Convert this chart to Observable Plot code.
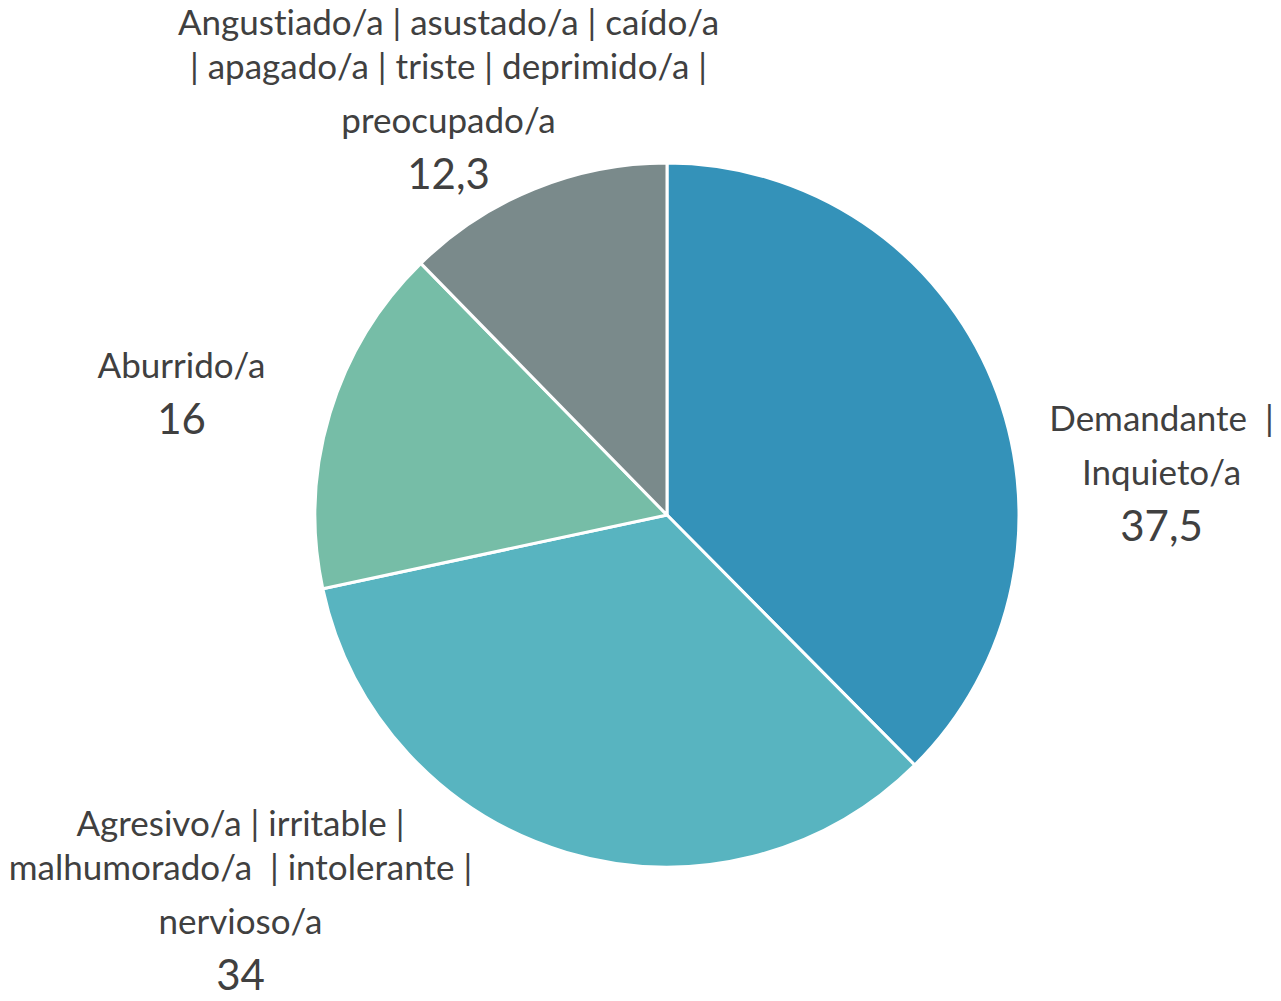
<!DOCTYPE html>
<html>
<head>
<meta charset="utf-8">
<script src="https://cdn.jsdelivr.net/npm/d3@7"></script>
<script src="https://cdn.jsdelivr.net/npm/@observablehq/plot@0.6"></script>
<style>
  html, body { margin: 0; padding: 0; background: #ffffff; }
  svg text { white-space: pre; font-variant-ligatures: none; }
</style>
</head>
<body>
<div id="chart"></div>
<script>
// ---- data ----
const categories = [
  "Demandante | Inquieto/a",
  "Agresivo/a | irritable | malhumorado/a | intolerante | nervioso/a",
  "Aburrido/a",
  "Angustiado/a | asustado/a | caído/a | apagado/a | triste | deprimido/a | preocupado/a"
];
const values = [37.5, 34, 16, 12.3];
const valueLabels = ["37,5", "34", "16", "12,3"];
const colors = ["#3492b9", "#58b4c0", "#76bda7", "#7a8a8b"];
// label text as it wraps: paragraphs of wrapped lines
const labelLines = [
  [["Demandante  |"], ["Inquieto/a"]],
  [["Agresivo/a | irritable |", "malhumorado/a  | intolerante |"], ["nervioso/a"]],
  [["Aburrido/a"]],
  [["Angustiado/a | asustado/a | caído/a", "| apagado/a | triste | deprimido/a |"], ["preocupado/a"]]
];

// ---- layout (pixels) ----
const W = 1281, H = 1001;
const cx = 667, cy = 515, R = 352;
// label block placement: centre x and first line y, offsets from pie centre (px)
const labelLayout = [
  {dx: 494, dy: -96},
  {dx: -427, dy: 309},
  {dx: -486, dy: -149},
  {dx: -219, dy: -492}
];
const wrapGap = 44, paraGap = 54;
const catFont = 35, valFont = 42;
const textColor = "#404040";
const fontFamily = "Lato, 'Open Sans', sans-serif";

const data = categories.map((c, i) => ({category: c, value: values[i]}));
const colorScale = Plot.scale({color: {type: "ordinal", domain: categories, range: colors}});

// text rows
const textRows = [];
labelLines.forEach((paras, i) => {
  const L = labelLayout[i];
  let y = L.dy;
  let first = true;
  paras.forEach((lines) => {
    lines.forEach((t, k) => {
      if (!first) y += (k === 0 ? paraGap : wrapGap);
      first = false;
      textRows.push({text: t, x: L.dx / R, y: y / R, size: catFont});
    });
  });
  y += paraGap;
  textRows.push({text: valueLabels[i], x: L.dx / R, y: y / R, size: valFont});
});

function pieMark(index, scales) {
  const {x, y} = scales;
  const r = x(1) - x(0);
  const arcs = d3.pie().sort(null).value(d => d.value)(data);
  const arc = d3.arc().innerRadius(0).outerRadius(r);
  const g = d3.create("svg:g").attr("transform", `translate(${x(0)},${y(0)})`);
  g.selectAll("path").data(arcs).join("path")
    .attr("d", arc)
    .attr("fill", d => colorScale.apply(d.data.category))
    .attr("stroke", "#ffffff")
    .attr("stroke-width", 3)
    .attr("stroke-linejoin", "round");
  return g.node();
}

const chart = Plot.plot({
  width: W,
  height: H,
  margin: 0,
  style: {fontFamily, background: "#ffffff"},
  x: {domain: [-cx / R, (W - cx) / R], range: [0, W], axis: null},
  y: {domain: [-cy / R, (H - cy) / R], range: [0, H], axis: null},
  marks: [
    pieMark,
    Plot.text(textRows, {
      x: "x", y: "y", text: "text",
      fontSize: d => d.size,
      fill: textColor,
      textAnchor: "middle",
      lineAnchor: "middle",
      fontFamily
    })
  ]
});
document.getElementById("chart").appendChild(chart);
</script>
</body>
</html>
